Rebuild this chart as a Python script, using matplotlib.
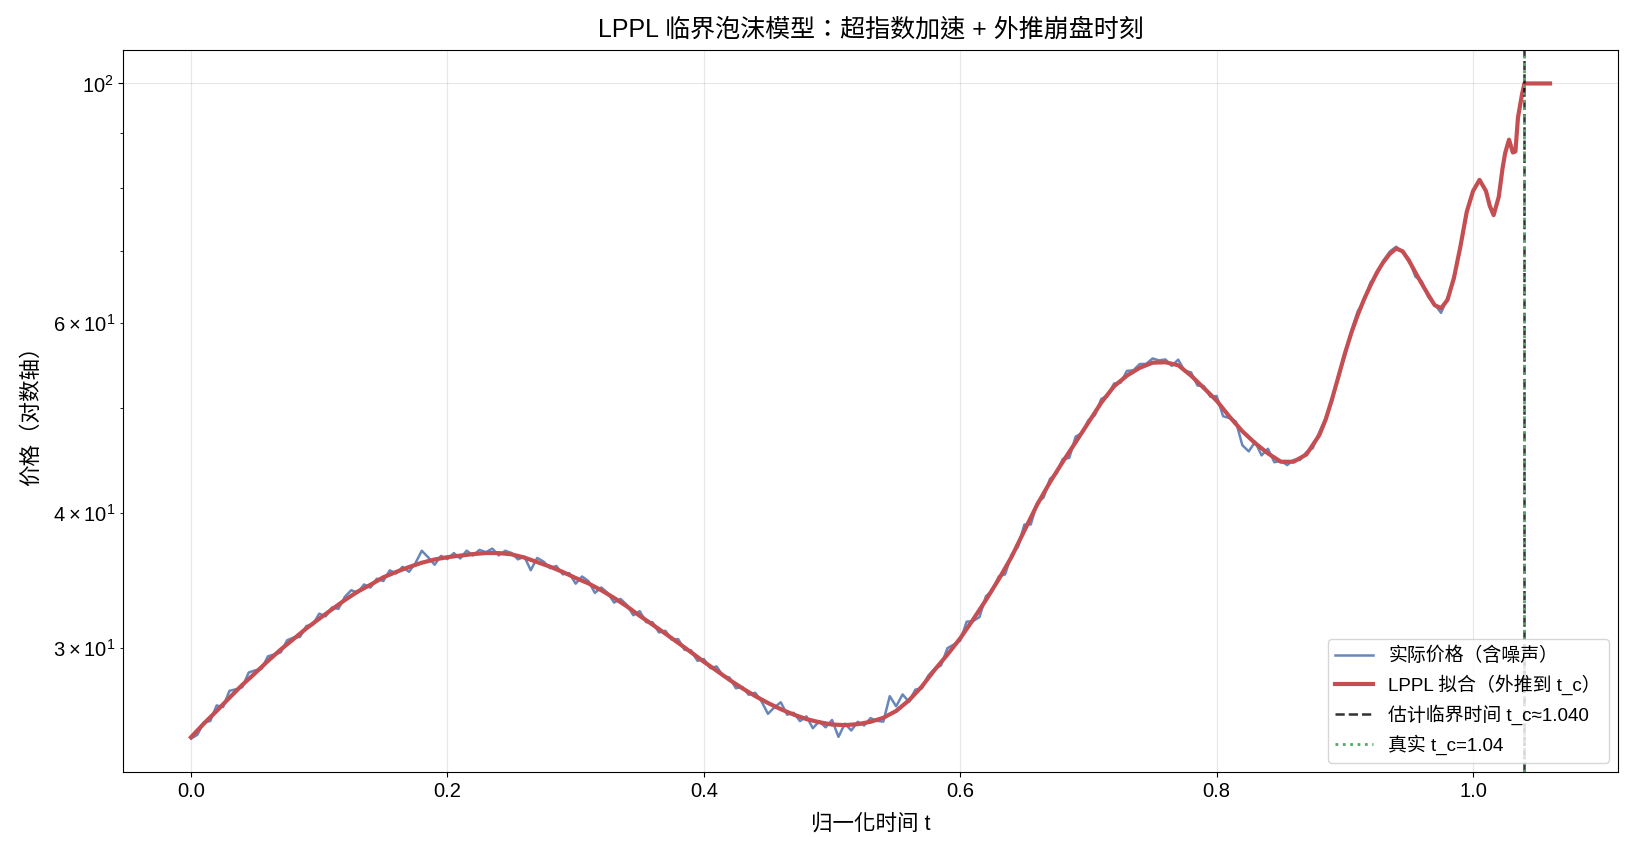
import matplotlib
matplotlib.use("Agg")
import matplotlib.pyplot as plt

plt.rcParams['font.family'] = ['Liberation Sans', 'Noto Sans CJK TC']
plt.rcParams['mathtext.fontset'] = 'custom'
plt.rcParams['mathtext.rm'] = 'Liberation Sans'
plt.rcParams['axes.unicode_minus'] = False

# 实际价格（含噪声）: t 从 0 到 1，步长 0.005
t_obs = [i * 0.005 for i in range(201)]
price_obs = [
    24.70, 24.90, 25.58, 25.64, 26.51, 26.42, 27.35, 27.44, 27.56, 28.44,
    28.57, 28.66, 29.44, 29.56, 29.69, 30.47, 30.64, 30.68, 31.41, 31.49,
    32.25, 32.06, 32.68, 32.58, 33.43, 33.90, 33.73, 34.32, 34.09, 34.75,
    34.57, 35.37, 35.14, 35.64, 35.26, 35.91, 36.88, 36.37, 35.80, 36.48,
    36.23, 36.70, 36.28, 36.89, 36.51, 36.95, 36.77, 37.05, 36.52, 36.88,
    36.71, 36.21, 36.42, 35.38, 36.32, 36.04, 35.54, 35.70, 35.07, 35.17,
    34.38, 34.91, 34.57, 33.71, 34.10, 33.70, 33.02, 33.28, 32.85, 32.14,
    32.42, 31.67, 31.66, 30.98, 31.09, 30.51, 30.54, 29.85, 29.82, 29.16,
    29.27, 28.71, 28.81, 28.22, 28.14, 27.50, 27.58, 27.12, 27.24, 26.74,
    26.04, 26.40, 26.69, 25.99, 26.10, 25.64, 25.90, 25.25, 25.63, 25.30,
    25.70, 24.79, 25.50, 25.13, 25.60, 25.40, 25.80, 25.65, 25.61, 27.04,
    26.46, 27.14, 26.72, 27.42, 27.49, 28.25, 28.66, 28.87, 29.96, 30.19,
    30.45, 31.70, 31.74, 32.01, 33.47, 33.88, 34.91, 35.07, 36.58, 37.18,
    39.00, 39.01, 40.86, 41.32, 43.00, 43.48, 44.87, 44.96, 47.06, 47.41,
    48.74, 49.25, 51.00, 51.35, 52.71, 52.79, 54.14, 54.21, 54.94, 54.96,
    55.60, 55.37, 55.48, 54.73, 55.46, 54.14, 53.98, 52.48, 52.41, 51.24,
    51.31, 49.15, 48.95, 48.59, 46.20, 45.60, 46.54, 45.21, 45.85, 44.55,
    44.69, 44.28, 44.78, 44.77, 45.53, 45.92, 47.48, 48.95, 50.75, 53.71,
    55.86, 58.99, 61.49, 62.91, 65.39, 66.53, 68.50, 69.85, 70.58, 69.76,
    68.71, 66.20, 65.53, 63.38, 62.42, 61.28, 63.25, 65.80, 70.71, 76.10,
    79.50,
]

# LPPL 拟合（外推到 t_c）
t_fit = [
    0.00, 0.01, 0.02, 0.03, 0.04, 0.05, 0.06, 0.07, 0.08, 0.09,
    0.10, 0.11, 0.12, 0.13, 0.14, 0.15, 0.16, 0.17, 0.18, 0.19,
    0.20, 0.21, 0.22, 0.23, 0.24, 0.25, 0.26, 0.27, 0.28, 0.29,
    0.30, 0.31, 0.32, 0.33, 0.34, 0.35, 0.36, 0.37, 0.38, 0.39,
    0.40, 0.41, 0.42, 0.43, 0.44, 0.45, 0.46, 0.47, 0.48, 0.49,
    0.50, 0.51, 0.52, 0.53, 0.54, 0.55, 0.56, 0.57, 0.58, 0.59,
    0.60, 0.61, 0.62, 0.63, 0.64, 0.65, 0.66, 0.67, 0.68, 0.69,
    0.70, 0.71, 0.72, 0.73, 0.74, 0.75, 0.76, 0.77, 0.78, 0.79,
    0.80, 0.81, 0.82, 0.83, 0.84, 0.85, 0.86, 0.87, 0.88, 0.885,
    0.89, 0.895, 0.90, 0.905, 0.91, 0.915, 0.92, 0.925, 0.93, 0.935,
    0.94, 0.945, 0.95, 0.955, 0.96, 0.965, 0.97, 0.975, 0.98, 0.985,
    0.99, 0.995, 1.00, 1.005, 1.01, 1.013, 1.016, 1.02, 1.023, 1.025,
    1.028, 1.031, 1.033, 1.035, 1.038, 1.04, 1.06,
]
price_fit = [
    24.77, 25.50, 26.20, 26.95, 27.70, 28.40, 29.15, 29.87, 30.55, 31.25,
    31.90, 32.55, 33.20, 33.80, 34.30, 34.85, 35.25, 35.62, 35.95, 36.20,
    36.38, 36.50, 36.62, 36.70, 36.70, 36.60, 36.35, 36.00, 35.65, 35.25,
    34.80, 34.40, 33.90, 33.35, 32.75, 32.10, 31.50, 30.90, 30.30, 29.70,
    29.10, 28.55, 28.00, 27.50, 27.05, 26.65, 26.30, 26.00, 25.75, 25.58,
    25.45, 25.42, 25.47, 25.60, 25.82, 26.20, 26.80, 27.60, 28.60, 29.55,
    30.60, 31.84, 33.20, 34.70, 36.40, 38.50, 40.70, 42.70, 44.60, 46.50,
    48.50, 50.60, 52.40, 53.60, 54.50, 55.10, 55.15, 54.80, 53.60, 52.20,
    50.80, 49.10, 47.60, 46.40, 45.40, 44.60, 44.60, 45.30, 47.20, 48.80,
    51.00, 53.50, 56.20, 58.70, 61.00, 63.10, 65.00, 66.80, 68.30, 69.50,
    70.30, 69.90, 68.50, 66.80, 65.20, 63.70, 62.30, 61.90, 63.00, 66.00,
    70.50, 76.00, 79.50, 81.40, 79.50, 77.00, 75.50, 78.50, 83.50, 86.20,
    88.70, 86.30, 86.50, 93.00, 97.50, 100.0, 100.0,
]

tc_est = 1.040
tc_true = 1.04

fig = plt.figure(figsize=(16.34, 8.55), dpi=100)
ax = fig.add_axes([0.0753, 0.0971, 0.9149, 0.8444])

ax.plot(t_obs, price_obs, color='#4C72B0', lw=1.8, alpha=0.85, label='实际价格（含噪声）')
ax.plot(t_fit, price_fit, color='#C44E52', lw=3.0, label='LPPL 拟合（外推到 t_c）')
ax.axvline(tc_est, color='k', ls='--', lw=1.8, alpha=0.8, label=f'估计临界时间 t_c≈{tc_est:.3f}')
ax.axvline(tc_true, color='#55A868', ls=':', lw=2.0, label=f'真实 t_c={tc_true}')

ax.set_yscale('log')
ax.set_xlim(-0.053, 1.113)
ax.set_ylim(23.0, 107.4)

ax.set_title('LPPL 临界泡沫模型：超指数加速 + 外推崩盘时刻', fontsize=18, pad=10)
ax.set_xlabel('归一化时间 t', fontsize=15.5, labelpad=9)
ax.set_ylabel('价格（对数轴）', fontsize=15.5, labelpad=8)
ax.tick_params(which='both', labelsize=14.5)
ax.grid(True, alpha=0.3)
ax.legend(loc='lower right', fontsize=13.6)

fig.savefig('out.png', dpi=100)
